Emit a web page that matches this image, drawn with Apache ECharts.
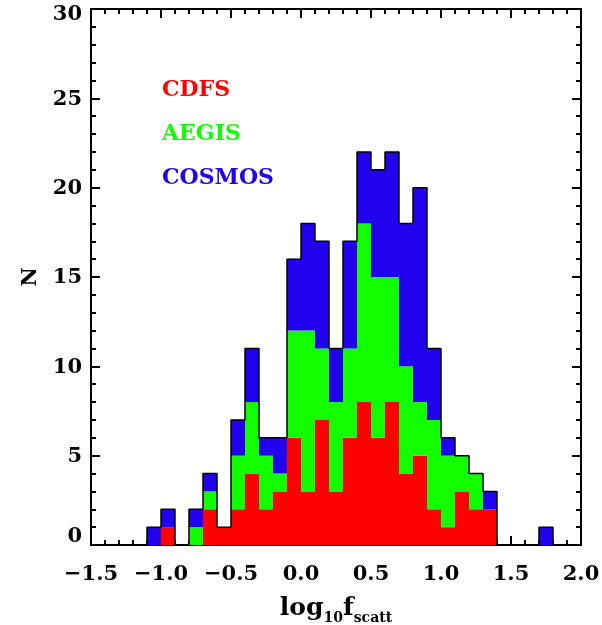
<!DOCTYPE html>
<html>
<head>
<meta charset="utf-8">
<script src="https://cdn.jsdelivr.net/npm/echarts@6/dist/echarts.min.js"></script>
<style>html,body{margin:0;padding:0;background:#fff}#c{width:602px;height:625px}</style>
</head>
<body>
<div id="c"></div>
<script>
// Histogram bins (start of each bin), bin width 0.1
const binStart = [-1.5,-1.4,-1.3,-1.2,-1.1,-1.0,-0.9,-0.8,-0.7,-0.6,-0.5,-0.4,-0.3,-0.2,-0.1,
  0.0,0.1,0.2,0.3,0.4,0.5,0.6,0.7,0.8,0.9,1.0,1.1,1.2,1.3,1.4,1.5,1.6,1.7,1.8,1.9];
const binWidth = 0.1;
const cdfs   = [0,0,0,0,0, 1,0,0,2,1, 2,4,2,3,6, 3,7,3,6,8, 6,8,4,5,2, 1,3,2,2,0, 0,0,0,0,0];
const aegis  = [0,0,0,0,0, 0,0,1,1,0, 3,4,3,1,6, 9,4,5,5,10, 9,7,6,3,5, 4,2,2,0,0, 0,0,0,0,0];
const cosmos = [0,0,0,0,1, 1,0,1,1,0, 2,3,1,2,4, 6,6,3,6,4, 6,7,8,12,4, 1,0,0,1,0, 0,0,1,0,0];
const legendNames = ['CDFS','AEGIS','COSMOS'];
const xTicks = [-1.5, 2.0, 0.5];   // min, max, interval
const yTicks = [0, 30, 5];

const colors = ['#ff0000','#12ff00','#2200ee'];
const FONT = '"DejaVu Serif", "Liberation Serif", serif';

const totals = binStart.map((_, i) => cdfs[i] + aegis[i] + cosmos[i]);
const outline = binStart.map((s, i) => [s, totals[i]]);
outline.push([binStart[binStart.length-1] + binWidth, totals[totals.length-1]]);

const fmt = v => (v < 0 ? '\u2212' : '') + Math.abs(v).toFixed(1);
const yfmt = v => v === yTicks[0] ? '{lo|' + v + '}' : (v === yTicks[1] ? '{hi|' + v + '}' : '{n|' + v + '}');
const yLab = {fontFamily: FONT, fontWeight: 'bold', fontSize: 21, color: '#000'};

const tickCommon = {
  axisLine: {show: true, onZero: false, lineStyle: {color: '#000', width: 2}},
  axisTick: {show: true, inside: true, length: 9, lineStyle: {color: '#000', width: 2}},
  minorTick: {show: true, splitNumber: 5, length: 5, lineStyle: {color: '#000', width: 2}},
  splitLine: {show: false}
};

const chart = echarts.init(document.getElementById('c'), null, {renderer: 'canvas'});
chart.setOption({
  animation: false,
  backgroundColor: '#fff',
  grid: {left: 91, right: 21, top: 9, bottom: 80, containLabel: false, outerBoundsMode: 'none'},
  xAxis: [
    {type: 'category', data: binStart.map(String), show: false, boundaryGap: true, position: 'bottom'},
    Object.assign({type: 'value', min: xTicks[0], max: xTicks[1], interval: xTicks[2], position: 'bottom',
      axisLabel: {show: true, formatter: fmt, fontFamily: FONT, fontWeight: 'bold', fontSize: 21, color: '#000', margin: 19},
      name: '{a|log}{s|10}{a|f}{s|scatt}', nameLocation: 'middle', nameGap: 46,
      nameTextStyle: {rich: {
        a: {fontFamily: FONT, fontWeight: 'bold', fontSize: 25, color: '#000', lineHeight: 34, verticalAlign: 'middle'},
        s: {fontFamily: FONT, fontWeight: 'bold', fontSize: 14, color: '#000', lineHeight: 34, verticalAlign: 'bottom'}
      }}
    }, tickCommon),
    Object.assign({type: 'value', min: xTicks[0], max: xTicks[1], interval: xTicks[2], position: 'top',
      axisLabel: {show: false}}, tickCommon)
  ],
  yAxis: [
    Object.assign({type: 'value', min: yTicks[0], max: yTicks[1], interval: yTicks[2], position: 'left',
      axisLabel: {show: true, margin: 9, formatter: yfmt, verticalAlign: 'middle',
        rich: {
          n: Object.assign({padding: [2,0,0,0]}, yLab),
          hi: Object.assign({padding: [12,0,0,0]}, yLab),
          lo: Object.assign({padding: [0,0,16,0]}, yLab)
        }},
      name: 'N', nameLocation: 'middle', nameGap: 50, nameRotate: 90,
      nameTextStyle: {fontFamily: FONT, fontWeight: 'bold', fontSize: 21, color: '#000'}
    }, tickCommon),
    Object.assign({type: 'value', min: yTicks[0], max: yTicks[1], interval: yTicks[2], position: 'right',
      axisLabel: {show: false}}, tickCommon)
  ],
  graphic: legendNames.map((n, i) => ({
    type: 'text', left: 162, top: 79 + i * 44, z: 100,
    style: {text: n, fill: colors[i], font: 'bold 22px ' + FONT}
  })),
  series: [
    {type: 'bar', name: legendNames[0], stack: 'h', data: cdfs, xAxisIndex: 0, yAxisIndex: 0,
      barCategoryGap: '0%', itemStyle: {color: colors[0]}},
    {type: 'bar', name: legendNames[1], stack: 'h', data: aegis, xAxisIndex: 0, yAxisIndex: 0,
      barCategoryGap: '0%', itemStyle: {color: colors[1]}},
    {type: 'bar', name: legendNames[2], stack: 'h', data: cosmos, xAxisIndex: 0, yAxisIndex: 0,
      barCategoryGap: '0%', itemStyle: {color: colors[2]}},
    {type: 'line', data: outline, xAxisIndex: 1, yAxisIndex: 0, step: 'end', symbol: 'none', z: 5,
      lineStyle: {color: '#000', width: 1.5}}
  ]
});
</script>
</body>
</html>
